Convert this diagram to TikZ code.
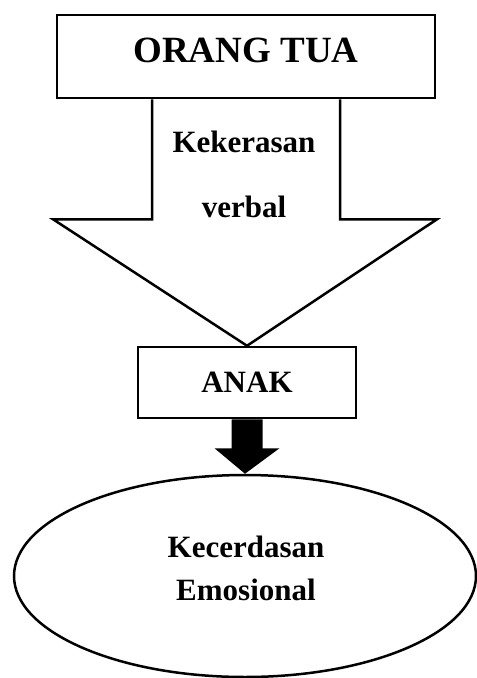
\documentclass[tikz,border=0pt]{standalone}
\usepackage{fontspec}
\setmainfont{Liberation Serif}
\usetikzlibrary{calc,shapes.geometric}
\tikzset{kotak/.style={draw,inner sep=0pt,font=\fontsize{31}{37}\selectfont\bfseries}}
\begin{document}
\begin{tikzpicture}[x=1pt,y=-1pt,line width=2.5pt]
\useasboundingbox (0,0) rectangle (477,678);
%orang tua
\node[kotak,minimum width=378pt,minimum height=83pt,text depth=12pt,font=\fontsize{37}{44}\selectfont\bfseries] (ortu) at (246,56.5) {ORANG TUA};
%anak
\node[kotak,minimum width=218pt,minimum height=71pt] (anak) at (247,382.5) {ANAK};
%kecerdasan emosional
\node[draw,ellipse,inner sep=0pt,minimum width=462pt,minimum height=202pt] (ke) at (245,576) {};
%panah besar
\draw[fill=white,line join=miter] ($(ortu.south)+(-94,0)$) -- ($(ortu.south)+(-94,120)$) -- ($(ortu.south)+(-193,120)$) -- (anak.north) -- ($(ortu.south)+(191,120)$) -- ($(ortu.south)+(94,120)$) -- ($(ortu.south)+(94,0)$);
\node[align=center,font=\fontsize{31}{65}\selectfont\bfseries] (kv) at (244,174.5) {Kekerasan\\verbal};
%panah hitam
\fill ($(anak.south)+(-15.5,0)$) -- ($(anak.south)+(-15.5,29)$) -- ($(anak.south)+(-32.5,29)$) -- (ke.north) -- ($(anak.south)+(32.5,29)$) -- ($(anak.south)+(15.5,29)$) -- ($(anak.south)+(15.5,0)$) -- cycle;
\node[align=center,font=\fontsize{31}{43}\selectfont\bfseries] (keteks) at (246,568.5) {Kecerdasan\\Emosional};
\end{tikzpicture}
\end{document}
